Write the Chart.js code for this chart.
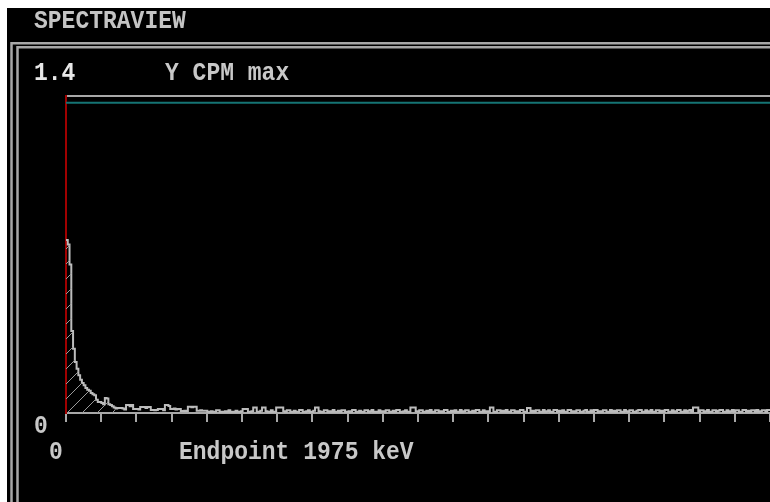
<!DOCTYPE html>
<html>
<head>
<meta charset="utf-8">
<script src="https://cdn.jsdelivr.net/npm/chart.js@4/dist/chart.umd.min.js"></script>
<style>
  html, body { margin: 0; padding: 0; background: #fff; }
  #wrap { position: absolute; left: 0; top: 0; width: 770px; height: 502px; }
</style>
</head>
<body>
<div id="wrap"><canvas id="spec" width="770" height="502"></canvas></div>
<script>
// spectrum, 5 keV per channel, counts per minute
const binKeV = 5;
const cpm = [
    0.78, 0.76, 0.67, 0.37, 0.29, 0.23, 0.20, 0.17, 0.15, 0.135, 0.125, 0.113, 0.105, 0.10, 0.09, 0.085, 0.08, 0.06, 0.05, 0.05,
    0.045, 0.04, 0.068, 0.065, 0.04, 0.036, 0.03, 0.025, 0.02, 0.023, 0.023, 0.023, 0.02, 0.016, 0.036, 0.036, 0.03, 0.036, 0.018, 0.018,
    0.018, 0.016, 0.027, 0.027, 0.027, 0.022, 0.027, 0.027, 0.014, 0.014, 0.012, 0.014, 0.018, 0.018, 0.018, 0.012, 0.036, 0.036, 0.032, 0.018,
    0.018, 0.02, 0.016, 0.018, 0.018, 0.009, 0.009, 0.01, 0.009, 0.028, 0.028, 0.026, 0.028, 0.028, 0.01, 0.01, 0.012, 0.01, 0.01, 0.01,
    0.006, 0.006, 0.008, 0.006, 0.006, 0.012, 0.012, 0.006, 0.006, 0.006, 0.008, 0.006, 0.012, 0.006, 0.006, 0.006, 0.01, 0.006, 0.006, 0.008,
    0.018, 0.018, 0.018, 0.006, 0.006, 0.008, 0.025, 0.025, 0.006, 0.006, 0.01, 0.025, 0.025, 0.008, 0.006, 0.006, 0.012, 0.006, 0.006, 0.025,
    0.025, 0.025, 0.025, 0.008, 0.006, 0.012, 0.012, 0.006, 0.006, 0.01, 0.006, 0.006, 0.014, 0.014, 0.006, 0.006, 0.008, 0.012, 0.006, 0.006,
    0.01, 0.025, 0.025, 0.008, 0.006, 0.006, 0.012, 0.012, 0.006, 0.008, 0.006, 0.014, 0.006, 0.006, 0.01, 0.006, 0.012, 0.012, 0.006, 0.006,
    0.008, 0.006, 0.014, 0.014, 0.006, 0.006, 0.01, 0.006, 0.006, 0.012, 0.012, 0.006, 0.008, 0.014, 0.006, 0.006, 0.006, 0.012, 0.006, 0.008,
    0.006, 0.012, 0.012, 0.006, 0.006, 0.01, 0.006, 0.014, 0.014, 0.006, 0.006, 0.008, 0.012, 0.006, 0.006, 0.025, 0.025, 0.025, 0.008, 0.006,
    0.012, 0.012, 0.006, 0.006, 0.01, 0.006, 0.014, 0.006, 0.006, 0.012, 0.012, 0.006, 0.008, 0.006, 0.014, 0.014, 0.006, 0.006, 0.01, 0.006,
    0.012, 0.006, 0.006, 0.014, 0.006, 0.008, 0.012, 0.012, 0.006, 0.006, 0.01, 0.006, 0.014, 0.014, 0.006, 0.006, 0.012, 0.006, 0.008, 0.006,
    0.025, 0.025, 0.006, 0.006, 0.012, 0.012, 0.006, 0.01, 0.006, 0.014, 0.006, 0.006, 0.012, 0.012, 0.006, 0.008, 0.006, 0.014, 0.014, 0.006,
    0.006, 0.022, 0.022, 0.006, 0.01, 0.006, 0.012, 0.012, 0.006, 0.006, 0.014, 0.006, 0.008, 0.012, 0.006, 0.006, 0.014, 0.014, 0.006, 0.01,
    0.006, 0.012, 0.006, 0.006, 0.014, 0.014, 0.006, 0.008, 0.006, 0.012, 0.012, 0.006, 0.006, 0.01, 0.014, 0.006, 0.006, 0.012, 0.006, 0.014,
    0.014, 0.006, 0.008, 0.006, 0.012, 0.012, 0.006, 0.006, 0.014, 0.006, 0.01, 0.006, 0.012, 0.012, 0.006, 0.006, 0.014, 0.008, 0.006, 0.012,
    0.012, 0.006, 0.006, 0.01, 0.014, 0.014, 0.006, 0.006, 0.012, 0.006, 0.008, 0.014, 0.006, 0.006, 0.012, 0.012, 0.006, 0.01, 0.006, 0.014,
    0.014, 0.006, 0.006, 0.012, 0.006, 0.008, 0.014, 0.014, 0.006, 0.006, 0.012, 0.006, 0.01, 0.014, 0.006, 0.025, 0.025, 0.025, 0.006, 0.012,
    0.012, 0.006, 0.008, 0.014, 0.006, 0.006, 0.012, 0.012, 0.006, 0.01, 0.014, 0.014, 0.006, 0.006, 0.012, 0.006, 0.008, 0.014, 0.006, 0.012,
    0.012, 0.006, 0.006, 0.014, 0.014, 0.006, 0.01, 0.006, 0.012, 0.012, 0.006, 0.014, 0.006, 0.008, 0.012, 0.012, 0.006, 0.014, 0.014
];
const hatchBins = 28;        // shaded low-energy region
const yMaxCpm = 1.4;         // "Y CPM max"
const endpointKeV = 1975;
const xTickKeV = 100;

const FONT = 'bold 23px "Liberation Mono", monospace';
const GRAY = '#a8a8a8';

const histPts = cpm.map((v, i) => ({ x: i * binKeV, y: v }));
histPts.push({ x: cpm.length * binKeV, y: cpm[cpm.length - 1] });
const hatchPts = histPts.slice(0, hatchBins + 1);

function hatchPattern() {
    const c = document.createElement('canvas');
    c.width = 15; c.height = 15;
    const g = c.getContext('2d');
    g.strokeStyle = '#9a9a9a';
    g.lineWidth = 1;
    g.beginPath();
    g.moveTo(-1, 16); g.lineTo(16, -1);
    g.stroke();
    return g.createPattern(c, 'repeat');
}

function txt(ctx, s, x, y, color) {
    ctx.save();
    ctx.font = FONT;
    ctx.fillStyle = color;
    ctx.textBaseline = 'alphabetic';
    ctx.translate(x, y);
    ctx.scale(1, 1.14);
    ctx.fillText(s, 0, 0);
    ctx.restore();
}

const screen = {
    id: 'screen',
    beforeDraw(chart) {
        const ctx = chart.ctx;
        ctx.save();
        ctx.fillStyle = '#fff';
        ctx.fillRect(0, 0, chart.width, chart.height);
        ctx.fillStyle = '#000';
        ctx.fillRect(7, 8, chart.width, chart.height);
        // double frame
        ctx.strokeStyle = GRAY;
        ctx.lineWidth = 2.5;
        ctx.beginPath();
        ctx.moveTo(11.5, chart.height); ctx.lineTo(11.5, 43.3); ctx.lineTo(chart.width, 43.3);
        ctx.moveTo(17.5, chart.height); ctx.lineTo(17.5, 47.3); ctx.lineTo(chart.width, 47.3);
        ctx.stroke();
        ctx.restore();
        txt(ctx, 'SPECTRAVIEW', 34, 28, '#c4c4c4');
        txt(ctx, yMaxCpm.toFixed(1), 34, 80, '#e8e8e8');
        txt(ctx, 'Y CPM max', 165, 80, '#c8c8c8');
        txt(ctx, '0', 34, 433, '#c8c8c8');
        txt(ctx, '0', 49, 459, '#c8c8c8');
        txt(ctx, 'Endpoint ' + endpointKeV + ' keV', 179, 459, '#c8c8c8');
    }
};

new Chart(document.getElementById('spec'), {
    type: 'line',
    data: {
        datasets: [
            {
                data: [{ x: 0, y: yMaxCpm }, { x: 2000, y: yMaxCpm }],
                borderColor: '#157474',
                borderWidth: 2,
                pointRadius: 0,
            },
            {
                data: hatchPts,
                stepped: 'before',
                borderWidth: 0,
                borderColor: 'rgba(0,0,0,0)',
                backgroundColor: hatchPattern(),
                fill: 'origin',
                pointRadius: 0,
            },
            {
                data: histPts,
                stepped: 'before',
                borderColor: '#bcbcbc',
                borderWidth: 2,
                pointRadius: 0,
                fill: false,
            },
        ],
    },
    options: {
        responsive: false,
        animation: false,
        devicePixelRatio: 1,
        layout: { padding: { left: 66, right: 0, top: 96, bottom: 80 } },
        plugins: { legend: { display: false }, tooltip: { enabled: false } },
        scales: {
            x: {
                type: 'linear',
                min: 0,
                max: 1993,
                ticks: { display: false, stepSize: xTickKeV },
                grid: { drawOnChartArea: false, drawTicks: true, tickLength: 9, color: GRAY, lineWidth: 2 },
                border: { color: GRAY, width: 2 },
            },
            xTop: {
                type: 'linear',
                position: 'top',
                min: 0,
                max: 1993,
                ticks: { display: false },
                grid: { display: false, drawTicks: false },
                border: { color: GRAY, width: 2 },
            },
            y: {
                min: 0,
                max: 1.43,
                ticks: { display: false },
                grid: { drawOnChartArea: false, drawTicks: false },
                border: { color: '#a00000', width: 2 },
            },
        },
    },
    plugins: [screen],
});
</script>
</body>
</html>
